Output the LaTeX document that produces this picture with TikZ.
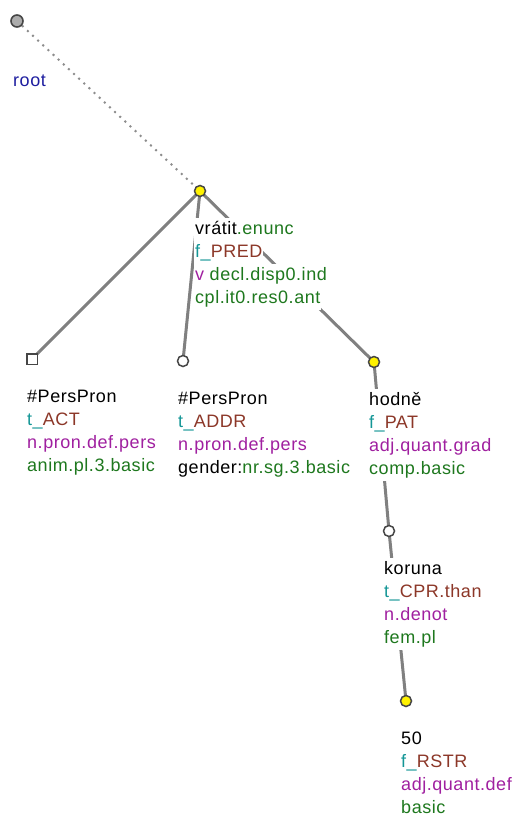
\documentclass[tikz,border=0pt]{standalone}
\usepackage{fontspec}
\setmainfont{Liberation Sans}[LetterSpace=3]
\pgfdeclarelayer{background}
\pgfsetlayers{background,main}
\definecolor{tgreen}{RGB}{30,120,30}
\definecolor{tteal}{RGB}{20,150,150}
\definecolor{tbrown}{RGB}{140,55,40}
\definecolor{tpurple}{RGB}{160,32,160}
\definecolor{tblue}{RGB}{30,30,160}
\definecolor{edgegray}{RGB}{128,128,128}
\definecolor{rimgray}{RGB}{70,70,70}
\tikzset{
  lbl/.style={anchor=base west, fill=white, inner xsep=1bp, inner ysep=0pt,
    text height=16bp, text depth=7bp, font=\fontsize{18bp}{22bp}\selectfont},
  yel/.style={circle, draw=rimgray, fill=yellow, line width=1.5bp, minimum size=11bp, inner sep=0pt},
  wht/.style={circle, draw=rimgray, fill=white, line width=1.5bp, minimum size=11bp, inner sep=0pt},
  sq/.style={rectangle, draw=rimgray, fill=white, line width=1.5bp, minimum size=10.5bp, inner sep=0pt},
  rootnd/.style={circle, draw=rimgray, fill=gray!65, line width=1.6bp, minimum size=12bp, inner sep=0pt},
  edge/.style={draw=edgegray, line width=3bp},
  rootedge/.style={draw=edgegray!90, line width=2bp, dash pattern=on 2bp off 5bp}
}
\newcommand\fourlines[7]{%
  \node[lbl] (#1a) at (#2-6,#3+43) {#4};
  \node[lbl] (#1b) at (#2-6,#3+66) {#5};
  \node[lbl] (#1c) at (#2-6,#3+89) {#6};
  \node[lbl] (#1d) at (#2-6,#3+112) {#7};
}
\begin{document}
\begin{tikzpicture}[x=1bp,y=-1bp]
\useasboundingbox (0,0) rectangle (514,816);

% labels
\node[lbl, text=tblue] (rootl) at (12,86) {root};
\fourlines{v}{200}{191}{vrátit\textcolor{tgreen}{.enunc}}{\textcolor{tteal}{f\_}\textcolor{tbrown}{PRED}}{\textcolor{tpurple}{v}\ \textcolor{tgreen}{decl.disp0.ind}}{\textcolor{tgreen}{cpl.it0.res0.ant}}
\fourlines{act}{32}{359}{\#PersPron}{\textcolor{tteal}{t\_}\textcolor{tbrown}{ACT}}{\textcolor{tpurple}{n.pron.def.pers}}{\textcolor{tgreen}{anim.pl.3.basic}}
\fourlines{addr}{183}{361}{\#PersPron}{\textcolor{tteal}{t\_}\textcolor{tbrown}{ADDR}}{\textcolor{tpurple}{n.pron.def.pers}}{gender:\textcolor{tgreen}{nr.sg.3.basic}}
\fourlines{pat}{374}{362}{hodně}{\textcolor{tteal}{f\_}\textcolor{tbrown}{PAT}}{\textcolor{tpurple}{adj.quant.grad}}{\textcolor{tgreen}{comp.basic}}
\fourlines{cpr}{389}{531}{koruna}{\textcolor{tteal}{t\_}\textcolor{tbrown}{CPR.than}}{\textcolor{tpurple}{n.denot}}{\textcolor{tgreen}{fem.pl}}
\fourlines{rstr}{406}{701}{50}{\textcolor{tteal}{f\_}\textcolor{tbrown}{RSTR}}{\textcolor{tpurple}{adj.quant.def}}{\textcolor{tgreen}{basic}}

% tree nodes
\node[rootnd] (root) at (17,21) {};
\node[yel] (vratit) at (200,191) {};
\node[sq] (pp1) at (32,359) {};
\node[wht] (pp2) at (183,361) {};
\node[yel] (hodne) at (374,362) {};
\node[wht] (koruna) at (389,531) {};
\node[yel] (n50) at (406,701) {};

\begin{pgfonlayer}{background}
\draw[rootedge] (root) -- (vratit);
\draw[edge] (vratit.center) -- (pp1.center);
\draw[edge] (vratit.center) -- (pp2.center);
\draw[edge] (vratit.center) -- (hodne.center);
\draw[edge] (hodne.center) -- (koruna.center);
\draw[edge] (koruna.center) -- (n50.center);
\end{pgfonlayer}
\end{tikzpicture}
\end{document}
